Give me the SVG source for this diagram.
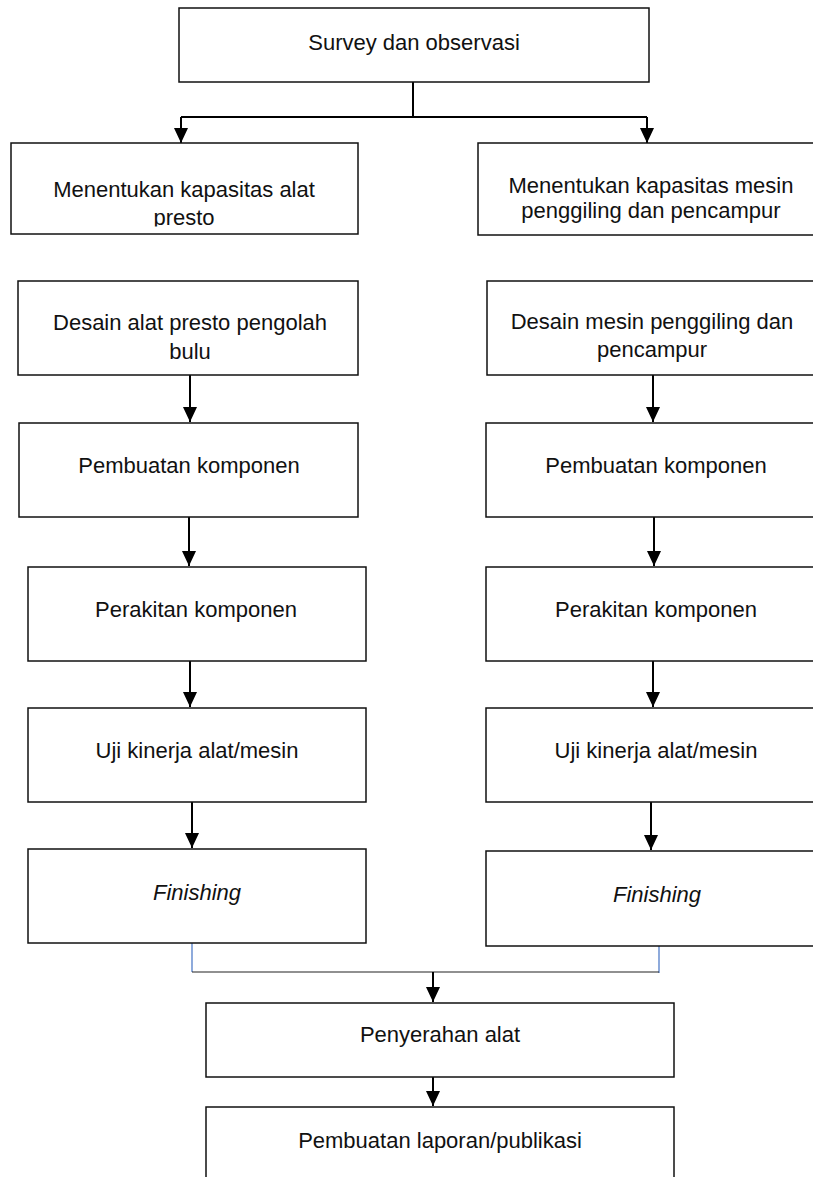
<svg xmlns="http://www.w3.org/2000/svg" width="813" height="1177" viewBox="0 0 813 1177">
<style>
.box{fill:#fff;stroke:#111;stroke-width:1.5}
.t{font-family:"Liberation Sans",Arial,sans-serif;font-size:22px;fill:#111;text-anchor:middle}
.it{font-style:italic}
.ln{fill:none;stroke:#000;stroke-width:2}
.arr{fill:none;stroke:#000;stroke-width:2;marker-end:url(#ah)}
.blue{fill:none;stroke:#4472C4;stroke-width:1.2}
.thin{fill:none;stroke:#222;stroke-width:1.2}
</style>
<defs>
<marker id="ah" viewBox="0 0 15 14" refX="15" refY="7" markerWidth="15" markerHeight="14" markerUnits="userSpaceOnUse" orient="auto">
<path d="M0,0 L15,7 L0,14 z" fill="#000"/>
</marker>
<clipPath id="clipKapL"><rect x="11" y="143" width="347" height="83.5"/></clipPath>
</defs>
<rect width="813" height="1177" fill="#fff"/>

<g id="connectors">
<path class="ln" d="M413,82 V117 M181,117 H647"/>
<path class="arr" d="M181,117 V143"/>
<path class="arr" d="M647,117 V143"/>
<path class="arr" d="M190,375 V422"/>
<path class="arr" d="M189,517 V566"/>
<path class="arr" d="M190,661 V707"/>
<path class="arr" d="M192,802 V848"/>
<path class="arr" d="M653,375 V422"/>
<path class="arr" d="M654,517 V566"/>
<path class="arr" d="M653,661 V707"/>
<path class="arr" d="M651,802 V850"/>
<path class="blue" d="M192,943 V972"/>
<path class="blue" d="M659,946 V973"/>
<path class="thin" d="M192,972 H659"/>
<path class="arr" d="M433,972 V1002"/>
<path class="arr" d="M433,1077 V1106"/>
</g>

<g id="n-survey">
<rect class="box" x="179" y="8" width="470" height="74"/>
<text class="t" x="414" y="50">Survey dan observasi</text>
</g>
<g id="n-kapasitas-alat">
<rect class="box" x="11" y="143" width="347" height="91"/>
<g clip-path="url(#clipKapL)">
<text class="t" x="184" y="197">Menentukan kapasitas alat</text>
<text class="t" x="184" y="225">presto</text>
</g>
</g>
<g id="n-kapasitas-mesin">
<rect class="box" x="478" y="143" width="346" height="92"/>
<text class="t" x="651" y="192.5">Menentukan kapasitas mesin</text>
<text class="t" x="651" y="217.5">penggiling dan pencampur</text>
</g>
<g id="n-desain-alat">
<rect class="box" x="18" y="281" width="340" height="94"/>
<text class="t" x="190" y="330">Desain alat presto pengolah</text>
<text class="t" x="190" y="359">bulu</text>
</g>
<g id="n-desain-mesin">
<rect class="box" x="487" y="281" width="340" height="94"/>
<text class="t" x="652" y="329">Desain mesin penggiling dan</text>
<text class="t" x="652" y="357">pencampur</text>
</g>
<g id="n-pembuatan-l">
<rect class="box" x="19" y="423" width="339" height="94"/>
<text class="t" x="189" y="473">Pembuatan komponen</text>
</g>
<g id="n-pembuatan-r">
<rect class="box" x="486" y="423" width="340" height="94"/>
<text class="t" x="656" y="473">Pembuatan komponen</text>
</g>
<g id="n-perakitan-l">
<rect class="box" x="28" y="567" width="338" height="94"/>
<text class="t" x="196" y="617">Perakitan komponen</text>
</g>
<g id="n-perakitan-r">
<rect class="box" x="486" y="567" width="340" height="94"/>
<text class="t" x="656" y="617">Perakitan komponen</text>
</g>
<g id="n-uji-l">
<rect class="box" x="28" y="708" width="338" height="94"/>
<text class="t" x="197" y="758">Uji kinerja alat/mesin</text>
</g>
<g id="n-uji-r">
<rect class="box" x="486" y="708" width="340" height="94"/>
<text class="t" x="656" y="758">Uji kinerja alat/mesin</text>
</g>
<g id="n-finishing-l">
<rect class="box" x="28" y="849" width="338" height="94"/>
<text class="t it" x="197" y="900">Finishing</text>
</g>
<g id="n-finishing-r">
<rect class="box" x="486" y="851" width="340" height="95"/>
<text class="t it" x="657" y="902">Finishing</text>
</g>
<g id="n-penyerahan">
<rect class="box" x="206" y="1003" width="468" height="74"/>
<text class="t" x="440" y="1042">Penyerahan alat</text>
</g>
<g id="n-laporan">
<rect class="box" x="206" y="1107" width="468" height="90"/>
<text class="t" x="440" y="1148">Pembuatan laporan/publikasi</text>
</g>
</svg>
